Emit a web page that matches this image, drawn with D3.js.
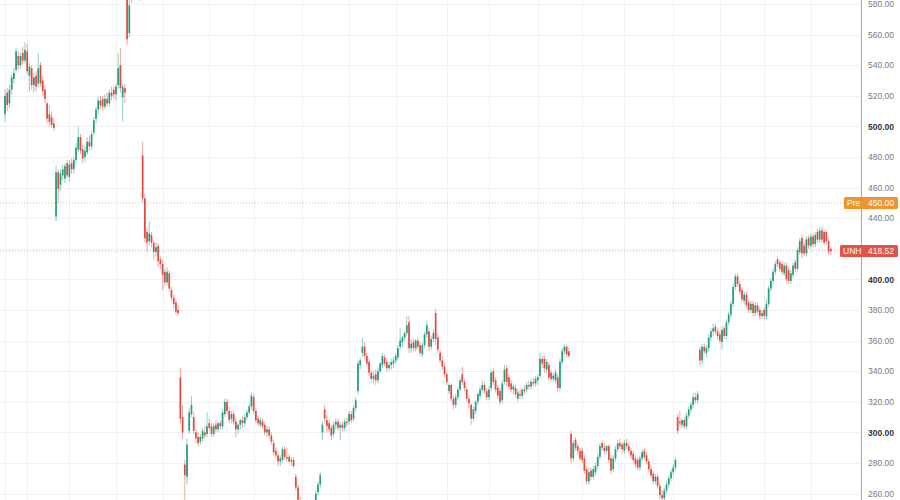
<!DOCTYPE html>
<html>
<head>
<meta charset="utf-8">
<script src="https://cdn.jsdelivr.net/npm/d3@7"></script>
<style>
body { margin: 0; background: #fff; }
svg { display: block; font-family: "Liberation Sans", Arial, sans-serif; }
</style>
</head>
<body>
<div id="chart"></div>
<script>
// daily candles, one array per month, each row = [open, high, low, close]
var jan25 = [[508,524,503,520],[522,525,510,514],[515,527,512,524],[524,534,521,532],[531,538,528,535],[537,551,535,549],[546,549,537,540],[540,548,538,546],[548,552,541,543],[543,555,541,550]];
var feb25 = [[549,554,534,536],[533,541,523,539],[538,540,524,527],[527,535,522,532],[533,536,523,526],[528,548,526,538],[540,542,526,528],[530,533,520,523],[524,527,515,518],[515,516,502,505],[508,514,500,503],[506,510,499,501],[502,505,497,499],[441,474,438,470],[470,472,450,459],[462,472,458,469],[468,475,465,472],[466,476,463,474],[476,478,466,468]];
var mar25 = [[467,478,464,475],[476,479,469,472],[472,480,469,478],[478,489,476,486],[485,500,483,493],[493,495,482,484],[485,488,476,479],[480,487,477,484],[483,493,481,490],[490,494,484,487],[487,497,485,495],[496,506,494,504],[505,513,502,511],[511,519,508,517],[517,520,511,514],[518,520,510,513],[513,521,511,518],[518,522,513,515],[515,524,513,522],[522,526,517,520],[524,526,518,521]];
var apr25 = [[521,528,517,526],[527,548,525,538],[540,551,522,525],[519,528,503,526],[525,528,515,522],[590,595,553,557],[561,588,558,579],[584,598,581,592],[592,602,586,596],[597,601,585,590],[590,598,584,594],[594,597,582,586],[481,490,450,453],[453,456,424,427],[431,434,418,424],[425,438,422,430],[429,431,421,424],[424,426,413,418],[418,424,415,421],[422,424,408,412],[413,415,407,410]];
var may25 = [[410,413,393,403],[405,407,396,398],[398,408,396,405],[404,406,392,394],[393,395,386,388],[388,390,381,384],[385,387,377,379],[380,383,376,378],[336,342,306,309],[310,318,296,300],[279,282,249,272],[271,296,266,292],[301,316,299,313],[312,324,310,318],[310,313,299,301],[300,302,293,296],[297,300,291,293],[294,299,292,297],[296,303,294,301],[300,304,296,298],[299,313,297,304]];
var jun25 = [[306,309,302,303],[304,306,297,299],[299,306,297,304],[305,308,300,302],[302,307,300,306],[306,308,302,304],[304,315,302,313],[312,322,310,320],[320,322,312,314],[314,317,306,308],[309,314,306,312],[312,314,305,307],[307,309,297,302],[302,306,299,305],[305,309,302,308],[308,311,303,306],[306,312,304,310],[310,315,308,313],[313,319,311,317],[317,326,315,324]];
var jul25 = [[323,325,312,314],[314,316,306,308],[309,311,304,306],[305,310,303,308],[307,309,302,304],[305,307,298,300],[300,304,297,302],[302,304,296,298],[298,300,292,294],[293,295,285,287],[288,290,283,285],[285,287,278,281],[281,285,278,283],[282,291,280,289],[289,291,282,284],[284,290,281,283],[284,286,280,281],[281,284,278,282],[282,284,277,278],[271,273,262,264],[264,266,252,256],[255,258,247,250]];
var aug25 = [[250,252,240,244],[243,247,236,240],[240,246,238,244],[244,247,236,238],[238,243,234,241],[241,248,239,246],[250,262,248,260],[261,268,259,266],[266,274,264,272],[300,307,295,305],[315,318,306,309],[308,311,300,304],[306,308,300,302],[303,305,295,298],[299,307,297,305],[305,309,302,307],[307,309,301,303],[303,307,295,305],[305,307,301,303],[303,309,301,307],[307,310,304,306]];
var sep25 = [[307,314,305,312],[312,314,306,308],[309,318,307,316],[316,323,314,321],[327,347,325,345],[344,349,341,347],[352,362,349,356],[356,359,348,350],[350,352,343,345],[346,348,337,339],[339,341,333,335],[335,340,332,337],[338,341,331,334],[334,342,332,340],[340,346,338,345],[344,352,342,350],[349,351,343,345],[346,348,340,342],[342,346,340,344],[344,348,341,346],[345,349,342,347]];
var oct25 = [[347,352,345,350],[349,357,347,355],[356,368,354,360],[359,363,356,362],[362,366,360,365],[365,376,363,370],[372,376,352,355],[355,361,352,358],[359,361,353,355],[355,361,353,360],[360,362,354,356],[357,359,350,352],[351,359,349,357],[357,366,355,364],[364,373,362,370],[366,368,353,356],[356,363,354,361],[361,367,359,365],[378,381,357,361],[362,365,352,354],[352,354,345,347],[347,350,341,343],[343,345,336,338]];
var nov25 = [[338,340,331,333],[327,332,325,331],[331,332,320,322],[322,324,315,318],[318,325,316,323],[323,330,321,328],[328,336,326,334],[338,343,331,333],[333,335,327,329],[328,330,320,322],[322,324,316,319],[318,319,305,309],[309,317,307,315],[314,321,312,320],[320,326,318,325],[324,330,322,328],[328,334,326,331],[331,333,325,327],[327,329,321,323]];
var dec25 = [[323,330,321,328],[329,341,327,339],[340,342,331,333],[334,336,326,328],[329,331,322,324],[327,329,318,320],[321,334,319,332],[333,344,331,341],[342,344,330,333],[336,338,328,330],[332,334,326,328],[328,332,325,330],[329,331,323,325],[322,328,320,326],[325,328,322,324],[324,329,322,328],[328,331,325,327],[328,333,326,331],[331,334,328,330],[330,335,328,333],[333,336,330,332],[332,337,330,335]];
var jan26 = [[334,338,331,336],[337,352,335,348],[348,350,342,345],[348,350,339,342],[341,348,339,346],[344,346,334,336],[339,341,333,335],[335,339,333,337],[334,341,332,339],[336,338,326,329],[329,348,327,346],[346,355,344,353],[353,358,351,356],[356,357,349,351],[353,355,349,350],[299,301,280,283],[283,295,281,293],[295,297,288,290],[291,293,285,288],[288,290,281,283]];
var feb26 = [[288,290,280,282],[283,285,273,275],[276,278,266,268],[268,277,266,274],[275,277,269,271],[271,278,269,276],[274,280,272,278],[278,286,276,284],[284,293,282,291],[293,295,288,290],[290,293,286,288],[288,292,286,291],[291,292,280,282],[283,285,273,275],[276,285,274,283],[283,291,281,289],[289,295,287,293],[293,296,289,291],[292,294,286,289]];
var mar26 = [[288,295,286,293],[293,296,289,291],[291,293,286,288],[288,290,283,285],[286,288,280,282],[283,285,277,279],[282,284,275,277],[277,285,275,283],[283,289,281,287],[288,290,282,284],[285,287,279,281],[281,283,274,276],[276,278,270,272],[273,275,266,268],[268,273,266,271],[271,273,263,265],[265,267,256,259],[259,262,254,257],[257,264,255,262],[262,268,260,266],[266,272,264,270],[270,276,268,274]];
var apr26 = [[274,279,272,277],[277,284,275,282],[310,312,299,301],[307,314,304,306],[305,309,303,308],[308,310,302,304],[304,313,302,311],[311,317,309,315],[315,320,313,318],[318,326,316,323],[323,326,319,321],[321,327,319,325],[354,356,344,347],[347,358,345,356],[356,358,351,353],[352,357,349,355],[355,364,353,362],[362,368,360,366],[366,371,363,368],[369,371,364,366],[366,368,361,363]];
var may26 = [[364,366,358,360],[359,369,354,367],[368,370,361,363],[363,374,361,372],[372,379,370,377],[377,386,375,384],[384,397,382,395],[395,404,393,402],[402,404,395,397],[397,399,390,392],[393,395,385,387],[386,392,384,390],[390,392,381,383],[385,387,378,380],[380,386,378,384],[384,386,376,378],[378,385,376,383],[383,385,377,379],[380,382,374,376],[376,380,374,378]];
var jun26 = [[380,382,374,376],[376,387,374,384],[384,396,382,394],[394,401,392,399],[399,407,397,405],[405,412,403,410],[413,415,408,410],[411,413,405,407],[410,412,403,405],[404,411,402,409],[409,411,398,400],[406,408,397,399],[399,406,397,404],[403,411,401,409],[411,413,405,407],[407,421,405,419],[418,427,416,425],[427,429,414,417],[422,424,415,417],[417,428,415,426],[427,429,420,422]];
var jul26 = [[422,430,420,428],[428,430,421,423],[423,431,421,429],[431,433,424,426],[426,434,424,432],[432,434,424,426],[431,433,422,424],[431,432,423,425],[425,427,416,418],[420,421,416,418.52]];

var yTicks = [260, 280, 300, 320, 340, 360, 380, 400, 420, 440, 460, 480, 500, 520, 540, 560, 580];
var preLabel = "Pre", preValue = 450.00;
var symbol = "UNH", lastValue = 418.52;

var width = 900, height = 500;
var axisX = 861;
var upColor = "#1f9e80", downColor = "#e04b41";

var months = [jan25, feb25, mar25, apr25, may25, jun25, jul25, aug25, sep25, oct25, nov25, dec25,
              jan26, feb26, mar26, apr26, may26, jun26, jul26];

// flatten months into one series, remember where each month starts
var candles = [];
var monthStarts = [0];
months.forEach(function(m, k){
	if(k > 0) monthStarts.push(candles.length);
	m.forEach(function(r){
		candles.push({i: candles.length, open: r[0], high: r[1], low: r[2], close: r[3]});
	});
});

var x = d3.scaleLinear().domain([0, candles.length - 1]).range([5, 830.8]);
var y = d3.scaleLinear().domain([260, 580]).range([493.6, 4]);

var svg = d3.select("#chart").append("svg")
	.attr("width", width)
	.attr("height", height);

svg.append("defs").append("clipPath").attr("id", "plot")
	.append("rect").attr("x", 0).attr("y", 0).attr("width", axisX).attr("height", height);

var plot = svg.append("g").attr("clip-path", "url(#plot)");

// grid
plot.selectAll("line.hgrid")
	.data(yTicks)
	.enter().append("line")
	.attr("class", "hgrid")
	.attr("x1", 0).attr("x2", axisX)
	.attr("y1", function(d){ return Math.round(y(d)) + 0.5; })
	.attr("y2", function(d){ return Math.round(y(d)) + 0.5; })
	.attr("stroke", "#f1f1f1");

plot.selectAll("line.vgrid")
	.data(monthStarts)
	.enter().append("line")
	.attr("class", "vgrid")
	.attr("x1", function(d){ return Math.round(x(d)) + 0.5; })
	.attr("x2", function(d){ return Math.round(x(d)) + 0.5; })
	.attr("y1", 0).attr("y2", height)
	.attr("stroke", "#f1f1f1");

// price lines
plot.append("line")
	.attr("x1", 0).attr("x2", 844)
	.attr("y1", y(preValue)).attr("y2", y(preValue))
	.attr("stroke", "#eab27a").attr("stroke-dasharray", "1,2");

plot.append("line")
	.attr("x1", 0).attr("x2", 840)
	.attr("y1", y(lastValue)).attr("y2", y(lastValue))
	.attr("stroke", "#d8a3a0").attr("stroke-dasharray", "1,2");

// candles
var g = plot.selectAll("g.candle")
	.data(candles)
	.enter().append("g")
	.attr("class", "candle");

g.append("line")
	.attr("x1", function(d){ return x(d.i); })
	.attr("x2", function(d){ return x(d.i); })
	.attr("y1", function(d){ return y(d.high); })
	.attr("y2", function(d){ return y(d.low); })
	.attr("stroke", function(d){ return d.close >= d.open ? upColor : downColor; })
	.attr("stroke-opacity", 0.55)
	.attr("stroke-width", 0.9);

g.append("rect")
	.attr("x", function(d){ return x(d.i) - 0.85; })
	.attr("width", 1.7)
	.attr("y", function(d){ return y(Math.max(d.open, d.close)); })
	.attr("height", function(d){ return Math.max(1, Math.abs(y(d.open) - y(d.close))); })
	.attr("fill", function(d){ return d.close >= d.open ? upColor : downColor; });

// right price axis; labels hidden under the badges are left out
var badgeValues = [preValue, lastValue];
var shownTicks = yTicks.filter(function(t){
	return badgeValues.every(function(b){ return Math.abs(y(t) - y(b)) > 8; });
});

var axis = d3.axisRight(y)
	.tickValues(shownTicks)
	.tickSize(0)
	.tickPadding(7)
	.tickFormat(d3.format(".2f"));

var ax = svg.append("g")
	.attr("transform", "translate(" + axisX + ",0)")
	.call(axis);

ax.select(".domain").remove();
ax.selectAll("text")
	.attr("font-family", "'Liberation Sans', Arial, sans-serif")
	.attr("font-size", 8.5)
	.attr("fill", function(d){ return d % 100 === 0 ? "#333" : "#7a7a7a"; })
	.attr("font-weight", function(d){ return d % 100 === 0 ? "bold" : "normal"; });

svg.append("line")
	.attr("x1", axisX + 0.5).attr("x2", axisX + 0.5)
	.attr("y1", 0).attr("y2", height)
	.attr("stroke", "#a8a8a8");

// value badges
function badge(label, value, left, color){
	var yc = y(value);
	var b = svg.append("g");
	b.append("rect")
		.attr("x", left).attr("y", yc - 6)
		.attr("width", width - left - 2).attr("height", 12)
		.attr("rx", 1.5)
		.attr("fill", color);
	b.append("text")
		.attr("x", left + 3).attr("y", yc)
		.attr("dy", "0.35em")
		.attr("font-size", 8.5)
		.attr("fill", "#fff")
		.text(label);
	b.append("text")
		.attr("x", axisX + 7).attr("y", yc)
		.attr("dy", "0.35em")
		.attr("font-size", 8.5)
		.attr("fill", "#fff")
		.text(d3.format(".2f")(value));
}

badge(preLabel, preValue, 844, "#f0952e");
badge(symbol, lastValue, 840, "#e2534a");
</script>
</body>
</html>
